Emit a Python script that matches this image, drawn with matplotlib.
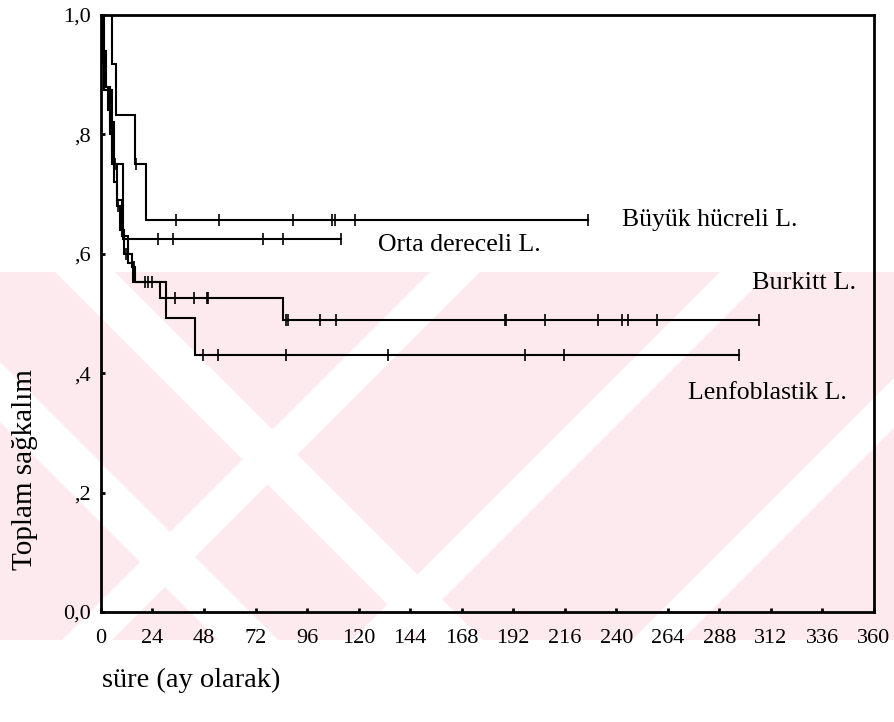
import numpy as np
import matplotlib.pyplot as plt
from matplotlib.patches import Polygon

plt.rcParams['font.family'] = ['Liberation Serif', 'DejaVu Serif']

# Kaplan-Meier steps: times (ay) where survival changes, the new level, and censored times
buyuk_t = [0, 5.0, 6.8, 15.8, 21.0]
buyuk_s = [1.0, 0.917, 0.833, 0.750, 0.656]
buyuk_c = [16.5, 35, 55, 89.5, 107.5, 109, 118.5, 227]

orta_t = [0, 1.5, 5.0, 10.2]
orta_s = [1.0, 0.875, 0.750, 0.625]
orta_c = [26.5, 33.5, 75.5, 85, 112]

burkitt_t = [0, 0.5, 1.0, 2.0, 3.5, 4.0, 5.0, 6.0, 7.5, 9.0, 10.5, 14.5, 16.0, 27.5, 85.0]
burkitt_s = [1.0, 0.96, 0.92, 0.88, 0.84, 0.80, 0.76, 0.72, 0.68, 0.64, 0.60, 0.578, 0.553,
             0.526, 0.489]
burkitt_c = [8, 11.5, 15.5, 20.5, 22, 24, 34.5, 43.5, 49.5, 50, 86, 87, 102, 109.5,
             188, 188.8, 207, 231.5, 242.5, 245.5, 259, 306.5]

lenfo_t = [0, 1.0, 2.5, 4.0, 6.0, 7.5, 10.0, 12.5, 15.0, 30.5, 43.8]
lenfo_s = [1.0, 0.94, 0.88, 0.82, 0.75, 0.69, 0.63, 0.585, 0.553, 0.492, 0.430]
lenfo_c = [6.5, 47.5, 54.5, 86, 133.5, 197.5, 215.5, 297]

x_ticks = list(range(0, 361, 24))
y_ticks = [0.0, 0.2, 0.4, 0.6, 0.8, 1.0]
y_labels = ['0,0', ',2', ',4', ',6', ',8', '1,0']

W, H = 895, 722
PINK = '#fdeaee'


def px(pts):
    """
    Converts pixel points (origin top-left) to figure fractions
    """
    return [(x / W, 1 - y / H) for x, y in pts]


def add_patch(fig, pts, color, z, clip=None):
    p = Polygon(px(pts), transform=fig.transFigure, fc=color, ec='none',
                zorder=z)
    fig.patches.append(p)
    if clip is not None:
        p.set_clip_path(clip)
    return p


def draw_watermark(fig):
    """
    Draws the faint pink striped watermark behind the chart
    """
    block = add_patch(fig, [(0, 272), (W, 272), (W, 640), (0, 640)], PINK, -3)
    # "\" white gaps on the left, "/" white gaps on the right
    for x0 in [-150, 55]:
        add_patch(fig, [(x0, 272), (x0 + 60, 272), (x0 + 60 + 368, 640),
                        (x0 + 368, 640)], 'white', -2, block)
    for x0 in [430, 720, 1000]:
        add_patch(fig, [(x0, 272), (x0 + 50, 272), (x0 + 50 - 368, 640),
                        (x0 - 368, 640)], 'white', -2, block)


def draw_km(ax, t, s, c):
    """
    Draws one Kaplan-Meier step curve with its censor marks
    """
    end = max(c[-1], t[-1])
    ax.step(list(t) + [end], list(s) + [s[-1]], where='post', color='black',
            lw=1.5, solid_joinstyle='miter')
    idx = np.searchsorted(t, c, side='right') - 1
    ax.plot(c, np.array(s)[idx], ls='none', marker='|', ms=9, mew=1.2,
            color='black')


def main():
    fig = plt.figure(figsize=(8.95, 7.22), dpi=100)
    draw_watermark(fig)
    ax = fig.add_axes([0.1128, 0.1524, 0.8637, 0.8269])
    ax.set_facecolor('none')
    ax.set_zorder(5)

    draw_km(ax, buyuk_t, buyuk_s, buyuk_c)
    draw_km(ax, orta_t, orta_s, orta_c)
    draw_km(ax, burkitt_t, burkitt_s, burkitt_c)
    draw_km(ax, lenfo_t, lenfo_s, lenfo_c)

    ax.set_xlim(0, 360)
    ax.set_ylim(0, 1.0)
    ax.set_xticks(x_ticks)
    ax.set_yticks(y_ticks)
    ax.set_yticklabels(y_labels)
    ax.tick_params(direction='in', length=3, width=2, labelsize=16)
    ax.tick_params(axis='x', pad=12)
    ax.tick_params(axis='y', pad=7)
    for sp in ax.spines.values():
        sp.set_linewidth(2)

    ax.text(242.7, 0.657, 'Büyük hücreli L.', fontsize=18.5, va='center')
    ax.text(129, 0.615, 'Orta dereceli L.', fontsize=18.5, va='center')
    ax.text(303, 0.551, 'Burkitt L.', fontsize=19, va='center')
    ax.text(273.4, 0.367, 'Lenfoblastik L.', fontsize=18.5, va='center')

    fig.text(0.028, 0.349, 'Toplam sağkalım', rotation=90, fontsize=21,
             ha='center', va='center', zorder=6)
    fig.text(0.114, 0.058, 'süre (ay olarak)', fontsize=20.5, va='center',
             zorder=6)

    fig.savefig('out.png', dpi=100)


if __name__ == '__main__':
    main()
